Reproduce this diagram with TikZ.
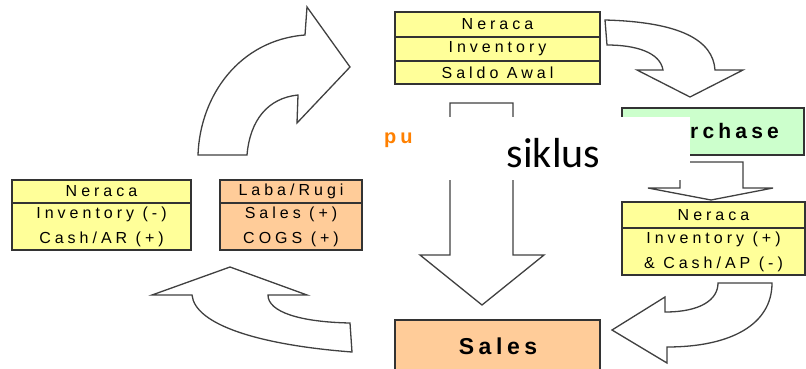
\documentclass[tikz,border=0pt]{standalone}
\usepackage{fontspec}
\usetikzlibrary{positioning}
\newfontfamily\kotakfont[LetterSpace=25]{Liberation Sans}
\newfontfamily\judulfont[LetterSpace=20]{Liberation Sans}
\newfontfamily\sikfont{Carlito}
\definecolor{kuning}{HTML}{FFFF99}
\definecolor{oranye}{HTML}{FFCC99}
\definecolor{hijau}{HTML}{CCFFCC}
\definecolor{jingga}{HTML}{FF8000}

\begin{document}
\begin{tikzpicture}[x=1pt,y=-1pt,
    panah/.style={draw=black!75,line width=1.3pt,fill=white,line join=miter},
    baris/.style={draw=black!80,line width=1.2pt,inner sep=0pt,outer sep=0pt,minimum height=#1,
        align=center,font=\kotakfont\fontsize{16}{25}\selectfont},
    judul/.style={font=\judulfont\bfseries\fontsize{#1}{#1}\selectfont}]
    \useasboundingbox (0,0) rectangle (806,368);
    \draw[panah](198,155)..controls(200,95)and(240,40)..(305,35)--(307,7)--(350,67)--(297,123)--(298,95)
        ..controls(268,98)and(250,120)..(247,155)--cycle;
    \draw[panah](605,20)..controls(680,22)and(713,40)..(715,70)--(743,70)--(690,97)--(637,70)--(663,70)
        ..controls(660,52)and(635,45)..(607,45)--cycle;
    \draw[panah](450,255)--(450,103)--(513,103)--(513,255)--(544,255)--(482,305)--(420,255)--cycle;
    \draw[panah](680,188)--(680,162)--(743,162)--(743,188)--(773,188)--(711,200)--(648,188)--cycle;
    \draw[panah](718,283)--(772,283)..controls(772,325)and(730,347)..(667,347)--(667,363)--(612,330)
        --(665,297)--(665,312)..controls(700,312)and(718,300)..(718,283)--cycle;
    \draw[panah](230,267)--(307,295)--(268,295)..controls(268,312)and(300,322)..(350,323)--(352,352)
        ..controls(260,345)and(195,325)..(192,295)--(152,295)--cycle;
    \node[baris=25,fill=kuning,minimum width=205](awal1)at(497.5,24.5){Neraca};
    \node[baris=24,fill=kuning,minimum width=205,below=0pt of awal1](awal2){Inventory};
    \node[baris=23,fill=kuning,minimum width=205,below=0pt of awal2](awal3){Saldo Awal};
    \node[baris=23,fill=kuning,minimum width=179](kas1)at(101.5,191.5){Neraca};
    \node[baris=47,fill=kuning,minimum width=179,below=0pt of kas1](kas2){Inventory (-)\\Cash/AR (+)};
    \node[baris=23,fill=oranye,minimum width=142](laba1)at(291,191.5){Laba/Rugi};
    \node[baris=47,fill=oranye,minimum width=142,below=0pt of laba1](laba2){Sales (+)\\COGS (+)};
    \node[baris=26,fill=kuning,minimum width=183](beli1)at(713.5,215){Neraca};
    \node[baris=47,fill=kuning,minimum width=183,below=0pt of beli1](beli2){Inventory (+)\\\& Cash/AP (-)};
    \node[baris=47,fill=hijau,minimum width=182](purchase)at(713,131.5){};
    \node[judul=21,anchor=base west,inner sep=0pt](rchase)at(690,138){rchase};
    \node[baris=52,fill=oranye,minimum width=205](sales)at(497.5,346){};
    \node[judul=23,anchor=base,inner sep=0pt](salestxt)at(498,354){Sales};
    \node[judul=20,anchor=base west,inner sep=0pt,text=jingga](pu)at(384,143){pu};
    \fill[white](418,117)rectangle(690,180);
    \node[font=\sikfont\fontsize{42}{42}\selectfont,anchor=base,inner sep=0pt](siklus)at(553.5,167){siklus};
\end{tikzpicture}
\end{document}
